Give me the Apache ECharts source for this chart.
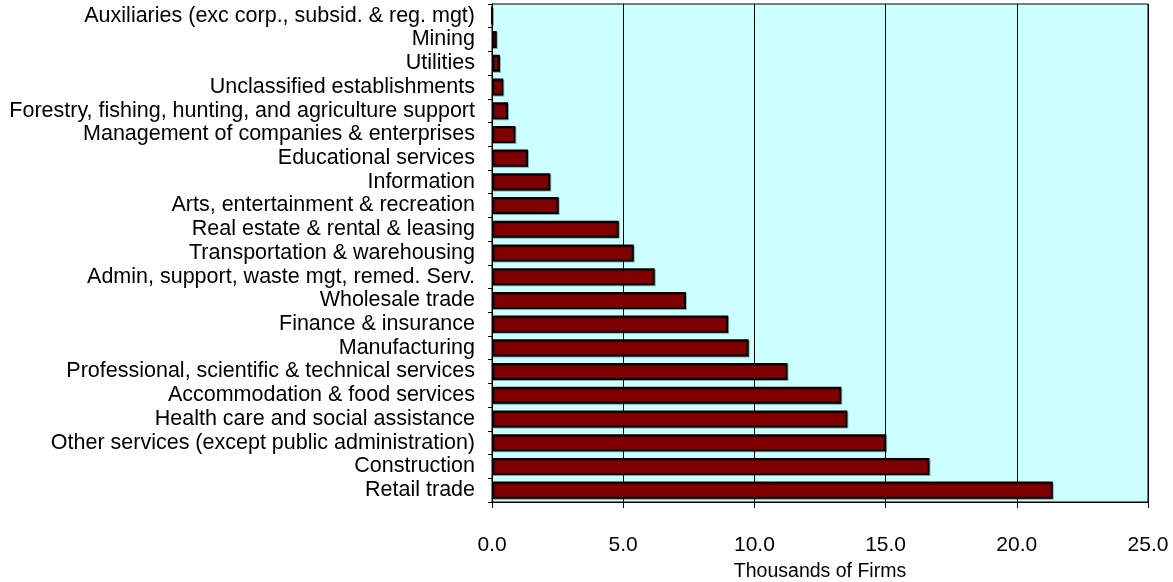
<!DOCTYPE html>
<html>
<head>
<meta charset="utf-8">
<script src="https://cdn.jsdelivr.net/npm/echarts@6/dist/echarts.min.js"></script>
<style>
  html, body { margin: 0; padding: 0; background: #fff; }
  #chart { width: 1173px; height: 582px; }
</style>
</head>
<body>
<div id="chart"></div>
<script>
// Industries, listed top to bottom
const industries = [
  "Auxiliaries (exc corp., subsid. & reg. mgt)",
  "Mining",
  "Utilities",
  "Unclassified establishments",
  "Forestry, fishing, hunting, and agriculture support",
  "Management of companies & enterprises",
  "Educational services",
  "Information",
  "Arts, entertainment & recreation",
  "Real estate & rental & leasing",
  "Transportation & warehousing",
  "Admin, support, waste mgt, remed. Serv.",
  "Wholesale trade",
  "Finance & insurance",
  "Manufacturing",
  "Professional, scientific & technical services",
  "Accommodation & food services",
  "Health care and social assistance",
  "Other services (except public administration)",
  "Construction",
  "Retail trade"
];

// Number of firms, in thousands
const firms = [
  0.0, 0.18, 0.30, 0.43, 0.61, 0.89, 1.37, 2.22, 2.54, 4.83, 5.40,
  6.20, 7.39, 9.00, 9.78, 11.26, 13.31, 13.54, 15.02, 16.67, 21.37
];

const xTicks = { min: 0, max: 25, interval: 5 };
const xTitle = "Thousands of Firms";

const chart = echarts.init(document.getElementById("chart"), null, { renderer: "canvas" });
const font = "Arial, 'Liberation Sans', sans-serif";

chart.setOption({
  animation: false,
  backgroundColor: "#ffffff",
  grid: {
    left: 492, right: 25, top: 4, bottom: 80,
    outerBoundsMode: "none",
    containLabel: false,
    show: true,
    backgroundColor: "#CCFFFF",
    borderColor: "#000000",
    borderWidth: 1
  },
  xAxis: {
    type: "value",
    min: xTicks.min, max: xTicks.max, interval: xTicks.interval,
    name: xTitle,
    nameLocation: "middle",
    nameGap: 60,
    nameTextStyle: { fontFamily: font, fontSize: 19.5, color: "#000" },
    axisLine: { show: true, lineStyle: { color: "#000", width: 1 } },
    axisTick: { show: true, length: 6, lineStyle: { color: "#000" } },
    axisLabel: {
      margin: 33,
      hideOverlap: false,
      fontFamily: font, fontSize: 21, color: "#000",
      formatter: v => v.toFixed(1)
    },
    splitLine: { show: true, lineStyle: { color: "#000", width: 1 } }
  },
  yAxis: {
    type: "category",
    inverse: true,
    data: industries,
    axisLine: { show: true, lineStyle: { color: "#000", width: 1 } },
    axisTick: { show: true, length: 4, lineStyle: { color: "#000" } },
    axisLabel: {
      interval: 0,
      hideOverlap: false,
      margin: 17,
      fontFamily: font, fontSize: 21.5, color: "#000"
    },
    splitLine: { show: false }
  },
  series: [{
    type: "bar",
    data: firms,
    barCategoryGap: "28%",
    itemStyle: {
      color: "#800000",
      borderColor: "#000000",
      borderWidth: 2,
      shadowColor: "rgba(0,0,0,0.35)",
      shadowOffsetX: 1,
      shadowOffsetY: 1
    }
  }]
});
</script>
</body>
</html>
